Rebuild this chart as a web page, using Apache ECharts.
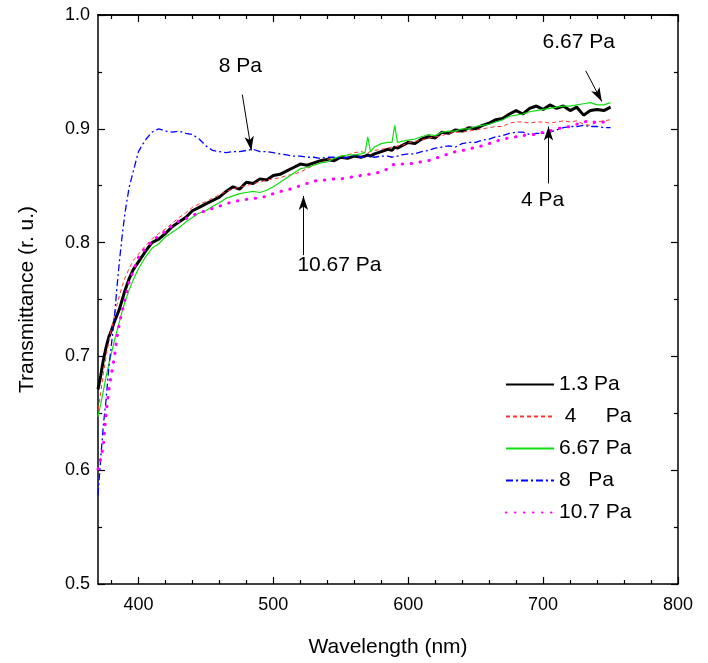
<!DOCTYPE html>
<html>
<head>
<meta charset="utf-8">
<script src="https://cdn.jsdelivr.net/npm/echarts@6/dist/echarts.min.js"></script>
<style>html,body{margin:0;padding:0;background:#fff;}#c{width:708px;height:663px;}</style>
</head>
<body>
<div id="c"></div>
<script>
const wavelengths = [
  370,372,374,376,378,380,382,384,386,388,390,393,396,
  400,405,410,415,420,425,430,435,440,445,450,455,460,465,470,475,480,485,490,495,
  500,505,510,515,520,525,530,535,540,545,550,555,560,565,
  568,570,572,575,580,585,588,590,592,
  595,600,605,610,615,620,625,630,635,640,645,650,655,660,665,670,675,680,685,690,695,
  700,705,710,715,720,725,730,735,740,745,750
];
const seriesNames = ['1.3 Pa', ' 4     Pa', '6.67 Pa', '8   Pa', '10.7 Pa'];
const t13 = [
  0.671,0.683,0.697,0.708,0.717,0.723,0.730,0.736,0.742,0.750,0.758,0.768,0.776,
  0.783,0.792,0.800,0.803,0.808,0.814,0.818,0.822,0.828,0.831,0.834,0.837,0.840,0.845,0.849,0.847,0.853,0.852,0.856,0.855,
  0.859,0.860,0.863,0.866,0.869,0.868,0.870,0.872,0.873,0.872,0.875,0.874,0.876,0.875,
  0.876,0.877,0.876,0.878,0.880,0.882,0.881,0.884,0.883,
  0.885,0.888,0.887,0.891,0.893,0.892,0.897,0.896,0.899,0.898,0.901,0.900,0.903,0.905,0.908,0.909,0.913,0.916,0.913,0.918,0.920,
  0.917,0.921,0.918,0.920,0.916,0.919,0.912,0.916,0.917,0.916,0.919
];
const t4 = [
  0.653,0.668,0.685,0.700,0.713,0.724,0.735,0.745,0.754,0.762,0.769,0.777,0.784,
  0.790,0.797,0.803,0.808,0.812,0.817,0.822,0.826,0.831,0.834,0.836,0.839,0.842,0.845,0.847,0.849,0.850,0.852,0.853,0.855,
  0.856,0.857,0.859,0.860,0.862,0.865,0.868,0.870,0.873,0.874,0.876,0.877,0.879,0.880,
  0.879,0.879,0.880,0.881,0.882,0.883,0.884,0.884,0.885,
  0.885,0.888,0.889,0.890,0.892,0.893,0.894,0.896,0.897,0.897,0.898,0.899,0.900,0.901,0.902,0.902,0.905,0.906,0.906,0.905,0.906,
  0.906,0.905,0.906,0.907,0.906,0.907,0.904,0.903,0.906,0.907,0.908
];
const t667 = [
  0.647,0.658,0.670,0.682,0.693,0.703,0.713,0.722,0.731,0.740,0.748,0.758,0.767,
  0.777,0.787,0.795,0.799,0.805,0.809,0.813,0.818,0.822,0.826,0.828,0.832,0.835,0.839,0.841,0.843,0.844,0.845,0.844,0.846,
  0.849,0.853,0.857,0.861,0.865,0.866,0.868,0.870,0.871,0.874,0.876,0.877,0.877,0.878,
  0.879,0.893,0.880,0.884,0.887,0.888,0.888,0.903,0.888,
  0.889,0.890,0.891,0.893,0.895,0.894,0.897,0.898,0.898,0.900,0.900,0.902,0.903,0.904,0.906,0.908,0.911,0.912,0.913,0.915,0.916,
  0.917,0.918,0.919,0.920,0.920,0.921,0.922,0.923,0.921,0.921,0.923
];
const t8 = [
  0.578,0.610,0.640,0.662,0.690,0.711,0.732,0.760,0.785,0.807,0.826,0.848,0.862,
  0.880,0.890,0.897,0.900,0.898,0.897,0.898,0.896,0.895,0.891,0.885,0.881,0.880,0.879,0.880,0.880,0.881,0.882,0.880,0.880,
  0.879,0.878,0.877,0.876,0.876,0.875,0.875,0.874,0.875,0.875,0.874,0.875,0.876,0.875,
  0.875,0.876,0.876,0.875,0.876,0.876,0.875,0.876,0.876,
  0.877,0.878,0.878,0.880,0.881,0.883,0.884,0.885,0.884,0.887,0.888,0.888,0.890,0.891,0.893,0.894,0.896,0.897,0.897,0.895,0.896,
  0.896,0.897,0.899,0.901,0.902,0.902,0.903,0.902,0.902,0.901,0.901
];
const t107 = [
  0.601,0.610,0.622,0.650,0.670,0.685,0.698,0.716,0.730,0.740,0.750,0.765,0.775,
  0.787,0.795,0.801,0.806,0.810,0.815,0.819,0.821,0.824,0.826,0.828,0.830,0.832,0.834,0.836,0.837,0.838,0.839,0.839,0.841,
  0.843,0.845,0.846,0.848,0.850,0.852,0.854,0.855,0.855,0.856,0.856,0.857,0.858,0.859,
  0.859,0.860,0.860,0.861,0.862,0.865,0.868,0.869,0.869,
  0.869,0.869,0.870,0.871,0.872,0.874,0.876,0.878,0.880,0.881,0.882,0.884,0.885,0.887,0.889,0.891,0.892,0.893,0.894,0.895,0.895,
  0.897,0.898,0.900,0.901,0.902,0.904,0.906,0.907,0.905,0.906,0.907
];
const xMajorTicks = [400, 500, 600, 700, 800];
const xMinorTicks = [380, 420, 440, 460, 480, 520, 540, 560, 580, 620, 640, 660, 680, 720, 740, 760, 780];
const annotTexts = ['8 Pa', '6.67 Pa', '4 Pa', '10.67 Pa'];
const annotPos = [[475.5, 0.955], [726.4, 0.976], [699.6, 0.837], [549, 0.780]];
const arrowFrom = [[477, 0.930], [731.6, 0.951], [704, 0.852], [522.3, 0.789]];
const arrowTo = [[483.7, 0.881], [743.5, 0.924], [704, 0.902], [522.3, 0.841]];

const FONT = 'Liberation Sans, Arial, sans-serif';
const values = [t13, t4, t667, t8, t107];
const styles = [
  { color: '#000000', width: 3, type: 'solid' },
  { color: '#ff3333', width: 1, type: [4, 3] },
  { color: '#11dd11', width: 1.2, type: 'solid' },
  { color: '#0000ff', width: 1.3, type: [7, 3, 2, 3] },
  { color: '#ff00ff', width: 3, type: [0.5, 8.5], cap: 'round' }
];

const series = values.map((vals, i) => ({
  name: seriesNames[i],
  type: 'line',
  xAxisIndex: 0, yAxisIndex: 0,
  data: wavelengths.map((w, j) => [w, vals[j]]),
  showSymbol: false, symbol: 'none',
  lineStyle: Object.assign({}, styles[i]),
  itemStyle: { color: styles[i].color },
  silent: true, animation: false
}));

series.push({
  name: 'annot',
  type: 'scatter',
  xAxisIndex: 0, yAxisIndex: 0,
  data: annotTexts.map((t, i) => ({ value: annotPos[i], name: t })),
  symbolSize: 0,
  itemStyle: { color: 'rgba(0,0,0,0)', opacity: 1 },
  label: { show: true, position: 'inside', formatter: p => p.name, color: '#000', opacity: 1, fontFamily: FONT, fontSize: 21 },
  markLine: {
    silent: true, symbol: ['none', 'arrow'], symbolSize: [7, 14],
    lineStyle: { color: '#000', width: 1, type: 'solid', opacity: 1 },
    label: { show: false },
    data: arrowFrom.map((f, i) => [{ coord: f }, { coord: arrowTo[i] }])
  },
  silent: true,
  animation: false
});

const axisLineStyle = { show: true, lineStyle: { color: '#000', width: 1.5 } };
function xAx(pos, custom, len, labels, extra) {
  return Object.assign({
    type: 'value', position: pos, min: 370, max: 800,
    axisLine: labels ? axisLineStyle : { show: pos === 'top', lineStyle: { color: '#000', width: 1.5 } },
    axisTick: { show: true, inside: true, length: len, customValues: custom, lineStyle: { color: '#000', width: 1.2 } },
    axisLabel: labels ? { show: true, customValues: custom, color: '#000', fontFamily: FONT, fontSize: 18, margin: 12 } : { show: false },
    splitLine: { show: false }
  }, extra || {});
}
function yAx(pos, labels, extra) {
  return Object.assign({
    type: 'value', position: pos, min: 0.5, max: 1.0, interval: 0.1,
    axisLine: axisLineStyle,
    axisTick: { show: true, inside: true, length: 7, lineStyle: { color: '#000', width: 1.2 } },
    minorTick: { show: true, splitNumber: 2, length: 4, lineStyle: { color: '#000', width: 1.2 } },
    axisLabel: labels ? { show: true, color: '#000', fontFamily: FONT, fontSize: 18, margin: 8, formatter: v => v.toFixed(1) } : { show: false },
    splitLine: { show: false }
  }, extra || {});
}

const chart = echarts.init(document.getElementById('c'), null, { renderer: 'canvas' });
chart.setOption({
  animation: false,
  backgroundColor: '#fff',
  grid: { left: 98, right: 30, top: 15, bottom: 74, containLabel: false },
  xAxis: [
    xAx('bottom', xMajorTicks, 7, true, {
      name: 'Wavelength (nm)', nameLocation: 'middle', nameGap: 53,
      nameTextStyle: { color: '#000', fontFamily: FONT, fontSize: 21 }
    }),
    xAx('bottom', xMinorTicks, 4, false),
    xAx('top', xMajorTicks, 7, false),
    xAx('top', xMinorTicks, 4, false)
  ],
  yAxis: [
    yAx('left', true, {
      name: 'Transmittance (r. u.)', nameLocation: 'middle', nameGap: 60,
      nameTextStyle: { color: '#000', fontFamily: FONT, fontSize: 21 }
    }),
    yAx('right', false)
  ],
  legend: {
    data: seriesNames,
    orient: 'vertical', left: 500, top: 369,
    itemWidth: 48, itemHeight: 14, itemGap: 11,
    itemStyle: { opacity: 0 },
    textStyle: { color: '#000', fontFamily: FONT, fontSize: 21, lineHeight: 20 },
    selectedMode: false
  },
  series: series
});
</script>
</body>
</html>
